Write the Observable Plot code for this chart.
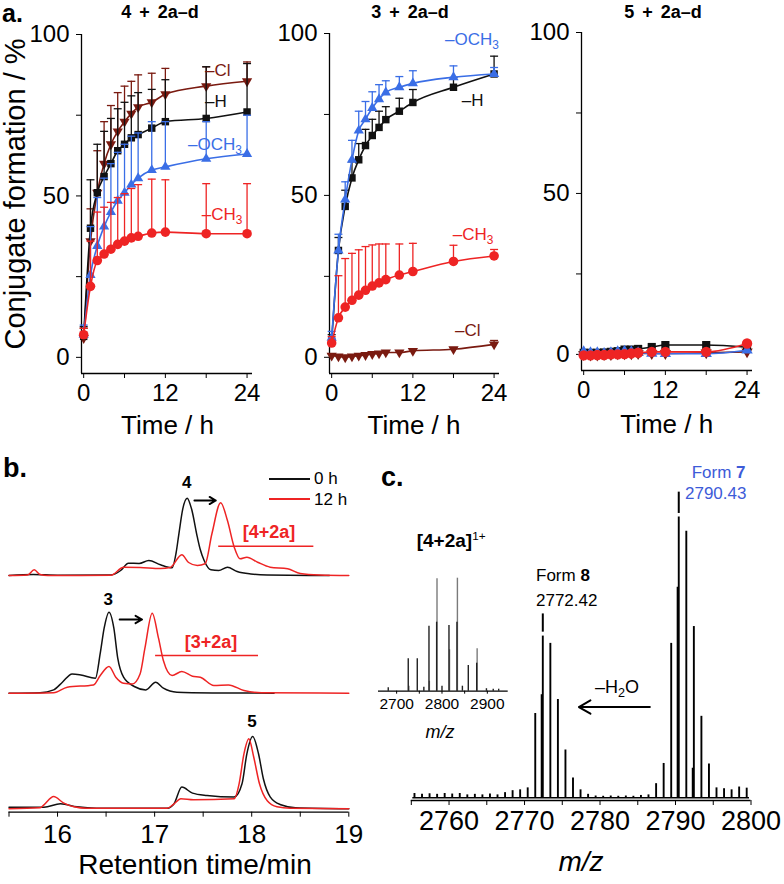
<!DOCTYPE html>
<html><head><meta charset="utf-8">
<script src="https://cdn.jsdelivr.net/npm/d3@7"></script>
<script src="https://cdn.jsdelivr.net/npm/@observablehq/plot@0.6"></script>
<style>
html,body{margin:0;padding:0;background:#fff;}
#root{position:relative;width:784px;height:884px;overflow:hidden;font-family:"Liberation Sans",Arial,sans-serif;color:#000;}
.pl{position:absolute;}
.tx{position:absolute;white-space:nowrap;line-height:1;}
.sb{font-size:0.7em;vertical-align:-0.3em;line-height:0;}
.sp{font-size:0.62em;vertical-align:0.6em;line-height:0;font-weight:normal;}
</style></head>
<body><div id="root"></div>
<script>
// ---------- Panel a data (conjugate formation, %) ----------
const times = [0, 1, 2, 3, 4, 5, 6, 7, 8, 10, 12, 18, 24];
const timeTicks = [0, 6, 12, 18, 24];
const pctTicks = [0, 25, 50, 75, 100];

// 4 + 2a–d
const a4_Cl = [6, 36, 51, 60, 66, 70, 73, 75.5, 77.5, 79, 81.5, 84, 85.5];
const a4_Cl_err = [3, 10, 13, 13, 12, 12, 11, 10, 10, 9, 8, 6, 6];
const a4_H = [6.5, 40, 51, 56, 60, 64, 66, 68, 69, 71, 73, 74, 76];
const a4_H_err = [3, 15, 15, 14, 14, 13, 13, 13, 13, 12, 13, 16, 15];
const a4_OCH3 = [7, 25.5, 34.5, 40.5, 45, 48.5, 51, 53.5, 55.5, 58, 59, 61.5, 63];
const a4_OCH3_err = [3, 15, 15, 15, 15, 15, 15, 15, 14, 15, 14, 11.5, 12];
const a4_CH3 = [7, 22, 30, 32, 33.5, 35, 36, 37, 37.5, 38.5, 38.8, 38.3, 38.3];
const a4_CH3_err = [2, 14, 15, 14.5, 14.5, 14.5, 14.7, 15.3, 16, 16.7, 16.2, 15.5, 15.5];

// 3 + 2a–d
const a3_Cl = [0.5, 0.3, 0, 0.3, 0.5, 0.7, 1, 1.2, 1.5, 1.5, 2, 2.5, 4];
const a3_Cl_err = [0.5, 0.5, 0.5, 0.5, 0.5, 0.5, 0.5, 0.5, 0.5, 0.5, 0.5, 0.5, 1.2];
const a3_H = [5, 33, 46.6, 55.4, 61, 65.4, 68.5, 71, 73.4, 76, 78.7, 83.4, 87.5];
const a3_H_err = [2, 4, 5, 5, 5, 5, 5, 5, 4, 4, 4, 3, 5.5];
const a3_OCH3 = [6, 33, 48.7, 61, 70, 73.5, 77, 79.7, 81.8, 83.4, 84.6, 86.5, 87.5];
const a3_OCH3_err = [2, 5, 5.5, 6, 6, 5.5, 5, 4.5, 3.6, 3.3, 3.9, 3.5, 2];
const a3_CH3 = [4.4, 12.2, 15.5, 17.6, 19.2, 20.7, 22, 23, 24, 25.4, 26.5, 29.6, 31.3];
const a3_CH3_err = [2, 13, 15, 14.5, 14, 13.5, 12.7, 12, 11, 9.6, 8.7, 5, 2];

// 5 + 2a–d
const a5_Cl = [0, -0.2, -0.2, 0, 0, 0.2, 0.2, 0.2, 0.3, 0.3, 0.3, 0.5, 0.8];
const a5_H = [0.5, 0.5, 0.5, 0.6, 0.8, 1, 1.5, 1.5, 1.7, 2.3, 2.9, 2.9, 2.2];
const a5_OCH3 = [0.8, 0.5, 0.5, 0.3, 0.5, 0.8, 1, 0.8, 0.5, 0.3, 0.2, 0.2, 1.3];
const a5_CH3 = [-0.3, -0.3, -0.2, -0.2, 0, 0, 0.1, 0.3, 0.5, 0.8, 0.8, 0.8, 3.4];

// ---------- Panel b data: HPLC traces [retention time (min), signal] ----------
const rtTicks = [15.5, 16, 16.5, 17, 17.5, 18, 18.5, 19];
const trace4_0h = [[15.5,0],[15.75,1],[16.0,0.3],[16.55,0.5],[16.65,5],[16.73,12.3],[16.84,12],[16.94,15],[17.06,10.7],[17.18,7.7],[17.22,22],[17.25,41.7],[17.29,66.7],[17.335,77.3],[17.38,66.7],[17.44,38.3],[17.47,26],[17.51,15],[17.58,5.7],[17.66,5],[17.75,8.3],[17.85,4],[17.99,1.5],[18.16,0.5],[18.8,0]];
const trace4_12h = [[15.5,0],[15.69,0.5],[15.76,5.7],[15.82,1],[15.9,0],[16.55,0.3],[16.68,8.3],[16.85,8],[17.06,7],[17.16,8],[17.28,20.7],[17.35,13],[17.44,10],[17.52,11.7],[17.59,41.7],[17.68,72.7],[17.75,55],[17.82,28.3],[17.88,16.7],[17.95,18.3],[18.06,13.3],[18.19,8.3],[18.37,6.7],[18.5,2],[18.7,0.5],[19,0]];
const trace3_0h = [[15.5,0],[15.82,0.5],[15.96,3.3],[16.05,11],[16.15,19.3],[16.24,18.3],[16.39,15],[16.44,40],[16.48,65],[16.53,81],[16.58,65],[16.62,35],[16.68,16],[16.79,6.7],[16.91,3.3],[17.01,11],[17.09,5],[17.23,1],[17.6,0.3],[18.23,0]];
const trace3_12h = [[15.5,0],[15.96,0.5],[16.1,6],[16.37,8.3],[16.44,17.7],[16.53,26.7],[16.6,16],[16.68,10],[16.77,9.3],[16.85,19.3],[16.9,45],[16.975,80],[17.04,55],[17.09,32.7],[17.18,17.7],[17.28,21.7],[17.39,17],[17.47,16],[17.61,7.7],[17.76,8.3],[17.92,2.7],[18.1,0.5],[19,0]];
const trace5_0h = [[15.5,1.5],[15.86,1.5],[16.03,5],[16.2,2],[16.4,0.5],[17.13,0.5],[17.2,5],[17.28,21.7],[17.39,15.7],[17.54,13.3],[17.82,11.7],[17.9,25],[17.95,55],[18.01,72.3],[18.07,55],[18.12,30],[18.19,12],[18.3,4],[18.45,1],[19,0]];
const trace5_12h = [[15.5,0],[15.82,1],[15.86,4],[15.96,12.3],[16.06,6],[16.17,2],[16.3,0.5],[17.13,0.5],[17.2,5],[17.27,10],[17.4,9],[17.82,10],[17.87,25],[17.92,55],[17.97,70],[18.02,52],[18.08,25],[18.16,8],[18.26,2],[18.4,0.5],[19,0]];

// ---------- Panel c data: mass spectrum (m/z, relative intensity %) ----------
const mzTicks = [2755, 2760, 2765, 2770, 2775, 2780, 2785, 2790, 2795, 2800];
const msMz = [2755.42,2756.42,2757.42,2758.42,2759.42,2760.42,2761.42,2762.42,2763.42,2764.42,2765.42,2766.42,
  2767.42,2768.42,2769.42,2770.42,2771.42,2772.42,2773.42,2774.42,2775.42,2776.42,2777.42,2778.42,
  2779.42,2780.42,2781.42,2782.42,2783.42,2784.42,2785.42,2786.42,
  2787.43,2788.43,2789.43,2790.43,2791.43,2792.43,2793.43,2794.43,2795.43,2796.43,2797.43,2798.43,2799.43];
const msInt = [1.5,1.2,1.4,1.2,1.5,1.3,1.5,1.0,1.2,1.0,1.3,1.0,
  1.8,2.5,2.8,3.5,30,57.6,55,35,17,7,2.8,1.2,
  0.6,0.5,0.6,0.5,0.6,0.5,0.8,1.0,
  5,12.2,55,100,95,61,29,12,3.5,3.2,2.8,3.8,3.4];
const msMz2 = [2772.25, 2790.26, 2792.26];
const msInt2 = [36.7, 75, 10.5];
// inset [4+2a]1+
const insetTicks = [2700, 2750, 2800, 2850, 2900];
const insetMz = [2681.5, 2725.6, 2745.5, 2760, 2771.3, 2788.2, 2800, 2815.4, 2833, 2845, 2858, 2876.5, 2898, 2913, 2925];
const insetInt = [3.4, 32.4, 32.4, 4, 65, 69, 5, 65.7, 69, 5, 25.7, 28, 2.5, 2, 2];
const insetGrayMz = [2727, 2772.2, 2789, 2816.6, 2834, 2877.5];
const insetGrayInt = [5, 10, 112.4, 41.4, 113, 42.4];

// ---------- styling ----------
const BLACK = "#111", RED = "#ee2424", BLUE = "#3a6ee6", DRED = "#7a1a10", CBLUE = "#3d5bd8";
const FONT = '"Liberation Sans", Arial, sans-serif';
const root = document.getElementById("root");

const triDown = {draw(ctx, size) {
  const y = -Math.sqrt(size / (Math.sqrt(3) * 3));
  ctx.moveTo(0, -y * 2); ctx.lineTo(-Math.sqrt(3) * y, y); ctx.lineTo(Math.sqrt(3) * y, y); ctx.closePath();
}};
const capSym = {draw(ctx, size) { const w = Math.sqrt(size) / 2; ctx.moveTo(-w, 0); ctx.lineTo(w, 0); }};

function place(svg, left, top) {
  const w = document.createElement("div"); w.className = "pl";
  w.style.left = left + "px"; w.style.top = top + "px";
  w.appendChild(svg); root.appendChild(w);
}
function T(html, x, base, size, o = {}) {
  const d = document.createElement("div"); d.className = "tx"; d.innerHTML = html;
  d.style.fontSize = size + "px"; d.style.left = x + "px"; d.style.top = (base - 0.8465 * size) + "px";
  if (o.bold) d.style.fontWeight = "bold";
  if (o.italic) d.style.fontStyle = "italic";
  if (o.color) d.style.color = o.color;
  if (o.ws) d.style.wordSpacing = o.ws + "px";
  if (o.anchor === "middle") d.style.transform = "translateX(-50%)";
  if (o.anchor === "end") d.style.transform = "translateX(-100%)";
  root.appendChild(d);
}

// ---------- panel a ----------
function panelA({left, width, mL, mR, mT, mB, series, errors = true}) {
  const xd = [-0.32, 24.8], yd = [-5, 100];
  const marks = [
    Plot.ruleX([xd[0]], {y1: yd[0], y2: yd[1], stroke: "#000", strokeWidth: 1.3}),
    Plot.ruleY([yd[0]], {x1: xd[0], x2: xd[1], stroke: "#000", strokeWidth: 1.3})
  ];
  for (const s of series) {
    const rows = times.map((t, i) => ({t, v: s.vals[i], e: s.errs ? s.errs[i] : 0}));
    if (errors && s.errs) {
      marks.push(Plot.ruleX(rows, {x: "t", y1: "v", y2: d => d.v + d.e, stroke: s.color, strokeWidth: 1.3}));
      marks.push(Plot.dot(rows, {x: "t", y: d => d.v + d.e, symbol: capSym, r: 4.5, stroke: s.color, strokeWidth: 1.3, fill: "none"}));
    }
    marks.push(Plot.line(rows, {x: "t", y: "v", stroke: s.color, strokeWidth: 1.6, curve: "monotone-x"}));
    marks.push(Plot.dot(rows, {x: "t", y: "v", symbol: s.symbol, r: s.r, fill: s.color, stroke: "none"}));
  }
  const svg = Plot.plot({
    width, height: 440, marginLeft: mL, marginRight: mR, marginTop: mT, marginBottom: mB,
    style: {fontFamily: FONT, fontSize: "24px", background: "transparent", color: "#000", overflow: "visible"},
    x: {domain: xd, ticks: timeTicks, tickFormat: d => d % 12 === 0 ? String(d) : "", tickSize: 5, tickPadding: 5, label: null},
    y: {domain: yd, ticks: pctTicks, tickFormat: d => d % 50 === 0 ? String(d) : "", tickSize: 5, tickPadding: 7, label: null},
    marks
  });
  place(svg, left, 0);
}
const S = (vals, errs, color, symbol, r) => ({vals, errs, color, symbol, r});
panelA({left: 0, width: 260, mL: 81, mR: 8, mT: 34, mB: 67, series: [
  S(a4_Cl, a4_Cl_err, DRED, triDown, 3.8), S(a4_H, a4_H_err, BLACK, "square", 4.2),
  S(a4_OCH3, a4_OCH3_err, BLUE, "triangle", 3.8), S(a4_CH3, a4_CH3_err, RED, "circle", 4.8)]});
panelA({left: 260, width: 260, mL: 69, mR: 21, mT: 33, mB: 67, series: [
  S(a3_Cl, a3_Cl_err, DRED, triDown, 3.8), S(a3_H, a3_H_err, BLACK, "square", 4.2),
  S(a3_OCH3, a3_OCH3_err, BLUE, "triangle", 3.8), S(a3_CH3, a3_CH3_err, RED, "circle", 4.8)]});
panelA({left: 520, width: 264, mL: 61, mR: 32, mT: 32, mB: 70, errors: false, series: [
  S(a5_Cl, null, DRED, triDown, 4.2), S(a5_H, null, BLACK, "square", 4.6),
  S(a5_OCH3, null, BLUE, "triangle", 4.2), S(a5_CH3, null, RED, "circle", 5.2)]});

// ---------- panel b ----------
{
  const OFF = [233.3, 115.6, 0]; // vertical stacking of the three chromatogram pairs
  const pairs = [[trace4_0h, trace4_12h], [trace3_0h, trace3_12h], [trace5_0h, trace5_12h]];
  const marks = [Plot.ruleY([-3.4], {x1: 15.5, x2: 19, stroke: "#000", strokeWidth: 1.3})];
  pairs.forEach(([k, r], i) => {
    marks.push(Plot.line(k, {x: d => d[0], y: d => d[1] + OFF[i], stroke: BLACK, strokeWidth: 1.5, curve: "monotone-x"}));
    marks.push(Plot.line(r, {x: d => d[0], y: d => d[1] + OFF[i], stroke: RED, strokeWidth: 1.5, curve: "monotone-x"}));
  });
  marks.push(Plot.arrow([{x1: 17.41, x2: 17.63, y: 308.3}], {x1: "x1", x2: "x2", y1: "y", y2: "y", stroke: "#000", strokeWidth: 2, headLength: 9}));
  marks.push(Plot.arrow([{x1: 16.64, x2: 16.87, y: 189.3}], {x1: "x1", x2: "x2", y1: "y", y2: "y", stroke: "#000", strokeWidth: 2, headLength: 9}));
  marks.push(Plot.ruleY([{y: 262.6, x1: 17.66, x2: 18.64}, {y: 153.3, x1: 17.01, x2: 18.07}], {y: "y", x1: "x1", x2: "x2", stroke: RED, strokeWidth: 1.5}));
  const svg = Plot.plot({
    width: 380, height: 430, marginLeft: 8.5, marginRight: 31.7, marginTop: 0, marginBottom: 73.3,
    style: {fontFamily: FONT, fontSize: "26px", background: "transparent", color: "#000", overflow: "visible"},
    x: {domain: [15.5, 19], ticks: rtTicks, tickFormat: d => Number.isInteger(d) ? String(d) : "", tickSize: 5, tickPadding: 7, label: null},
    y: {domain: [-3.4, 353.3], axis: null},
    marks
  });
  place(svg, 0, 455);
}

// ---------- panel c ----------
{
  const rows = msMz.map((m, i) => ({m, v: msInt[i]}));
  const rows2 = msMz2.map((m, i) => ({m, v: msInt2[i]}));
  const svg = Plot.plot({
    width: 404, height: 430, marginLeft: 30.8, marginRight: 33.5, marginTop: 5.5, marginBottom: 85,
    style: {fontFamily: FONT, fontSize: "27px", background: "transparent", color: "#000", overflow: "visible"},
    x: {domain: [2755, 2800], ticks: mzTicks, tickFormat: d => d % 10 === 0 ? String(d) : "", tickSize: 5, tickPadding: 5, label: null},
    y: {domain: [-1, 120], axis: null},
    marks: [
      Plot.ruleY([-1], {x1: 2755, x2: 2800, stroke: "#000", strokeWidth: 1.3}),
      Plot.ruleY([0], {x1: 2755.2, x2: 2799.8, stroke: "#000", strokeWidth: 1.5}),
      Plot.ruleX(rows, {x: "m", y1: 0, y2: "v", stroke: "#000", strokeWidth: 1.9}),
      Plot.ruleX(rows2, {x: "m", y1: 0, y2: "v", stroke: "#000", strokeWidth: 1.6}),
      Plot.ruleX([{m: 2790.43, a: 101.3, b: 108.9}, {m: 2772.42, a: 59, b: 65.5}], {x: "m", y1: "a", y2: "b", stroke: "#000", strokeWidth: 2}),
      Plot.arrow([{x1: 2786.6, x2: 2777.2, y: 32.3}], {x1: "x1", x2: "x2", y1: "y", y2: "y", stroke: "#000", strokeWidth: 2, headLength: 10})
    ]
  });
  place(svg, 380, 455);

  const irows = insetMz.map((m, i) => ({m, v: insetInt[i]}));
  const grows = insetGrayMz.map((m, i) => ({m, v: insetGrayInt[i]}));
  const inset = Plot.plot({
    width: 160, height: 190, marginLeft: 18, marginRight: 12.3, marginTop: 5.7, marginBottom: 59.3,
    style: {fontFamily: FONT, fontSize: "15.5px", background: "transparent", color: "#000", overflow: "visible"},
    x: {domain: [2660, 2946], ticks: insetTicks, tickFormat: d => d % 100 === 0 ? String(d) : "", tickSize: 3, tickPadding: 4, label: null},
    y: {domain: [0, 125], axis: null},
    marks: [
      Plot.ruleX(grows, {x: "m", y1: 0, y2: "v", stroke: "#7a7a7a", strokeWidth: 1.4}),
      Plot.ruleX(irows, {x: "m", y1: 0, y2: "v", stroke: "#222", strokeWidth: 1.4}),
      Plot.ruleY([0], {x1: 2660, x2: 2946, stroke: "#000", strokeWidth: 1.2})
    ]
  });
  place(inset, 360, 560);
}

// ---------- text ----------
T("a.", 2, 22, 25, {bold: true});
T("4 + 2a–d", 160, 18.5, 18, {bold: true, anchor: "middle", ws: 3});
T("3 + 2a–d", 410, 18.5, 18, {bold: true, anchor: "middle", ws: 3});
T("5 + 2a–d", 663, 18.5, 18, {bold: true, anchor: "middle", ws: 3});
{
  const d = document.createElement("div"); d.className = "tx";
  d.textContent = "Conjugate formation / %";
  d.style.fontSize = "29px"; d.style.left = "15px"; d.style.top = "194px";
  d.style.transform = "translate(-50%,-50%) rotate(-90deg)";
  root.appendChild(d);
}
T("Time / h", 167.5, 434, 26, {anchor: "middle"});
T("Time / h", 414, 434, 26, {anchor: "middle"});
T("Time / h", 666.7, 433, 26, {anchor: "middle"});

T("–Cl", 205, 76.7, 17, {color: DRED});
T("–H", 205, 107.3, 17, {color: BLACK});
T('–OCH<span class="sb">3</span>', 188, 150, 17, {color: BLUE});
T('–CH<span class="sb">3</span>', 201.7, 220.7, 17, {color: RED});
T('–OCH<span class="sb">3</span>', 445, 45, 17, {color: BLUE});
T("–H", 461.7, 106, 17, {color: BLACK});
T('–CH<span class="sb">3</span>', 452.7, 240, 17, {color: RED});
T("–Cl", 455, 336.7, 17, {color: DRED});

T("b.", 3, 478, 27, {bold: true});
{
  const mk = (top, color) => { const l = document.createElement("div"); l.style.position = "absolute";
    l.style.left = "269px"; l.style.top = top + "px"; l.style.width = "41px"; l.style.borderTop = "2px solid " + color; root.appendChild(l); };
  mk(478.3, BLACK); mk(498.3, RED);
}
T("0 h", 314, 484, 17);
T("12 h", 314, 505, 17);
T("4", 186.7, 488.5, 17, {bold: true, anchor: "middle"});
T("3", 108.3, 605, 17, {bold: true, anchor: "middle"});
T("5", 252, 727, 17, {bold: true, anchor: "middle"});
T("[4+2a]", 269, 538, 18, {bold: true, anchor: "middle", color: RED});
T("[3+2a]", 211, 648, 18, {bold: true, anchor: "middle", color: RED});
T("Retention time/min", 195, 875, 28, {anchor: "middle"});

T("c.", 381, 487, 27, {bold: true});
T("Form <b>7</b>", 691.7, 478.3, 17, {color: CBLUE});
T("2790.43", 685, 499.3, 17, {color: CBLUE});
T("Form <b>8</b>", 536, 581.7, 17);
T("2772.42", 536, 606, 17);
T('[4+2a]<span class="sp">1+</span>', 416.7, 546.7, 19, {bold: true});
T('–H<span class="sb">2</span>O', 595, 693, 18);
T("m/z", 440, 738, 18, {italic: true, anchor: "middle"});
T("m/z", 581, 871.7, 28, {italic: true, anchor: "middle"});
</script>
</body></html>
